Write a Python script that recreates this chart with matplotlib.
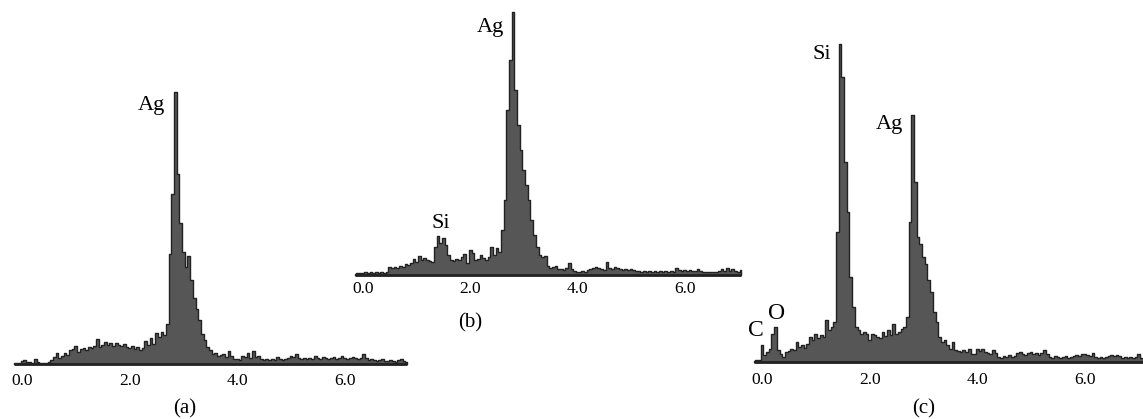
"""Three EDS spectra (a), (b), (c) side by side, redrawn as filled step plots."""
import matplotlib
matplotlib.use("Agg")
import matplotlib.pyplot as plt
import numpy as np

plt.rcParams["font.family"] = ["Liberation Serif", "DejaVu Serif"]

# spectra start at -0.15 keV, one channel per 0.05 keV; counts in arbitrary units
E_START = -0.15
E_STEP = 0.05

TICKS = [0, 2, 4, 6]
TICK_LABELS = ["0.0", "2.0", "4.0", "6.0"]

COUNTS_A = [
    1, 1, 1, 3, 4, 2, 2, 1, 5, 2,
    1, 1, 1, 2, 4, 7, 11, 6, 8, 11,
    9, 14, 15, 18, 12, 15, 16, 14, 17, 16,
    18, 25, 17, 19, 22, 19, 21, 18, 21, 19,
    18, 20, 17, 16, 18, 15, 17, 14, 16, 23,
    19, 26, 20, 31, 27, 32, 29, 40, 110, 170,
    272, 190, 141, 112, 97, 108, 84, 66, 55, 44,
    30, 24, 17, 14, 10, 11, 8, 9, 10, 7,
    13, 8, 5, 5, 4, 8, 7, 11, 6, 13,
    7, 8, 5, 4, 5, 4, 5, 4, 7, 5,
    4, 5, 6, 8, 7, 10, 6, 5, 6, 5,
    6, 5, 8, 6, 5, 7, 6, 5, 6, 7,
    5, 6, 8, 6, 5, 6, 7, 6, 5, 6,
    10, 6, 4, 5, 4, 3, 4, 5, 3, 3,
    4, 3, 2, 4, 5, 3, 2,
]

COUNTS_B = [
    1, 2, 2, 2, 3, 2, 3, 2, 3, 2,
    3, 2, 3, 8, 7, 8, 7, 9, 8, 11,
    10, 12, 16, 13, 19, 15, 17, 15, 14, 13,
    28, 39, 32, 37, 30, 20, 15, 14, 16, 15,
    18, 21, 12, 25, 22, 15, 16, 20, 17, 15,
    18, 28, 20, 27, 23, 45, 75, 165, 215, 263,
    185, 150, 125, 105, 90, 75, 55, 40, 28, 20,
    18, 19, 9, 7, 8, 9, 6, 6, 5, 7,
    12, 6, 4, 3, 3, 4, 3, 5, 6, 7,
    8, 7, 6, 5, 13, 7, 6, 8, 7, 6,
    5, 6, 5, 6, 5, 4, 4, 3, 4, 3,
    4, 3, 4, 3, 4, 3, 4, 3, 4, 3,
    7, 5, 4, 5, 4, 5, 4, 4, 6, 4,
    3, 3, 3, 3, 3, 3, 4, 6, 4, 7,
    4, 6, 4, 3, 5,
]

COUNTS_C = [
    1, 2, 2, 17, 7, 10, 13, 28, 35, 12,
    8, 5, 10, 11, 13, 12, 20, 15, 17, 14,
    18, 25, 22, 28, 24, 27, 25, 42, 32, 35,
    40, 130, 318, 285, 200, 150, 85, 55, 35, 32,
    28, 30, 28, 22, 28, 27, 25, 24, 30, 26,
    32, 27, 38, 28, 30, 33, 35, 45, 140, 247,
    180, 125, 118, 105, 98, 82, 70, 50, 40, 25,
    20, 22, 17, 13, 20, 12, 11, 10, 12, 10,
    13, 8, 8, 13, 11, 13, 10, 9, 8, 12,
    9, 5, 4, 6, 5, 7, 5, 6, 9, 10,
    8, 7, 9, 10, 8, 9, 7, 9, 12, 8,
    5, 4, 6, 5, 4, 5, 6, 4, 5, 6,
    7, 6, 8, 8, 7, 6, 9, 5, 4, 5,
    4, 5, 6, 7, 6, 7, 6, 4, 5, 4,
    5, 4, 5, 8, 4, 3,
]

# peak labels: (text, energy, height, fontsize)
PEAKS_A = [("Ag", 2.40, 254, 16)]
PEAKS_B = [("Ag", 2.37, 243, 16), ("Si", 1.46, 47, 16)]
PEAKS_C = [("Si", 1.11, 303, 16), ("Ag", 2.36, 233, 16),
           ("C", -0.12, 26, 17), ("O", 0.27, 43, 17)]

FILL = "#565656"
EDGE = "#222222"
W, H = 1143, 419


def draw_panel(fig, rect_px, xlim, ylim, counts, peaks, tag, tag_pos, pad):
    l, b, w, h = rect_px
    ax = fig.add_axes([l / W, b / H, w / W, h / H])
    energy = E_START + E_STEP * np.arange(len(counts))
    ax.fill_between(energy, 0, counts, step="mid",
                    facecolor=FILL, edgecolor=EDGE, linewidth=1.0)
    ax.hlines(0, energy[0], energy[-1], color=EDGE, linewidth=2)
    for text, x, y, size in peaks:
        ax.text(x, y, text, ha="center", va="baseline", fontsize=size)
    ax.text(tag_pos[0], tag_pos[1], tag, ha="center", va="baseline", fontsize=15)

    ax.set_xlim(*xlim)
    ax.set_ylim(*ylim)
    ax.set_xticks(TICKS)
    ax.set_xticklabels(TICK_LABELS)
    ax.set_yticks([])
    ax.tick_params(axis="x", length=0, pad=pad, labelsize=12.5)
    for s in ax.spines.values():
        s.set_visible(False)
    ax.patch.set_alpha(0)
    return ax


fig = plt.figure(figsize=(W / 100, H / 100), dpi=100)

draw_panel(fig, (5.86, 51, 408.9, 294), (-0.3, 7.3), (-4, 290),
           COUNTS_A, PEAKS_A, "(a)", (3.03, -49), 3.8)
draw_panel(fig, (346.9, 140, 402.0, 279), (-0.3, 7.2), (-4, 275),
           COUNTS_B, PEAKS_B, "(b)", (2.0, -52), 1.5)
draw_panel(fig, (745.9, 53, 398.1, 334), (-0.3, 7.1), (-4, 330),
           COUNTS_C, PEAKS_C, "(c)", (3.01, -51), 4.5)

fig.savefig("out.png", dpi=100)
plt.close(fig)
